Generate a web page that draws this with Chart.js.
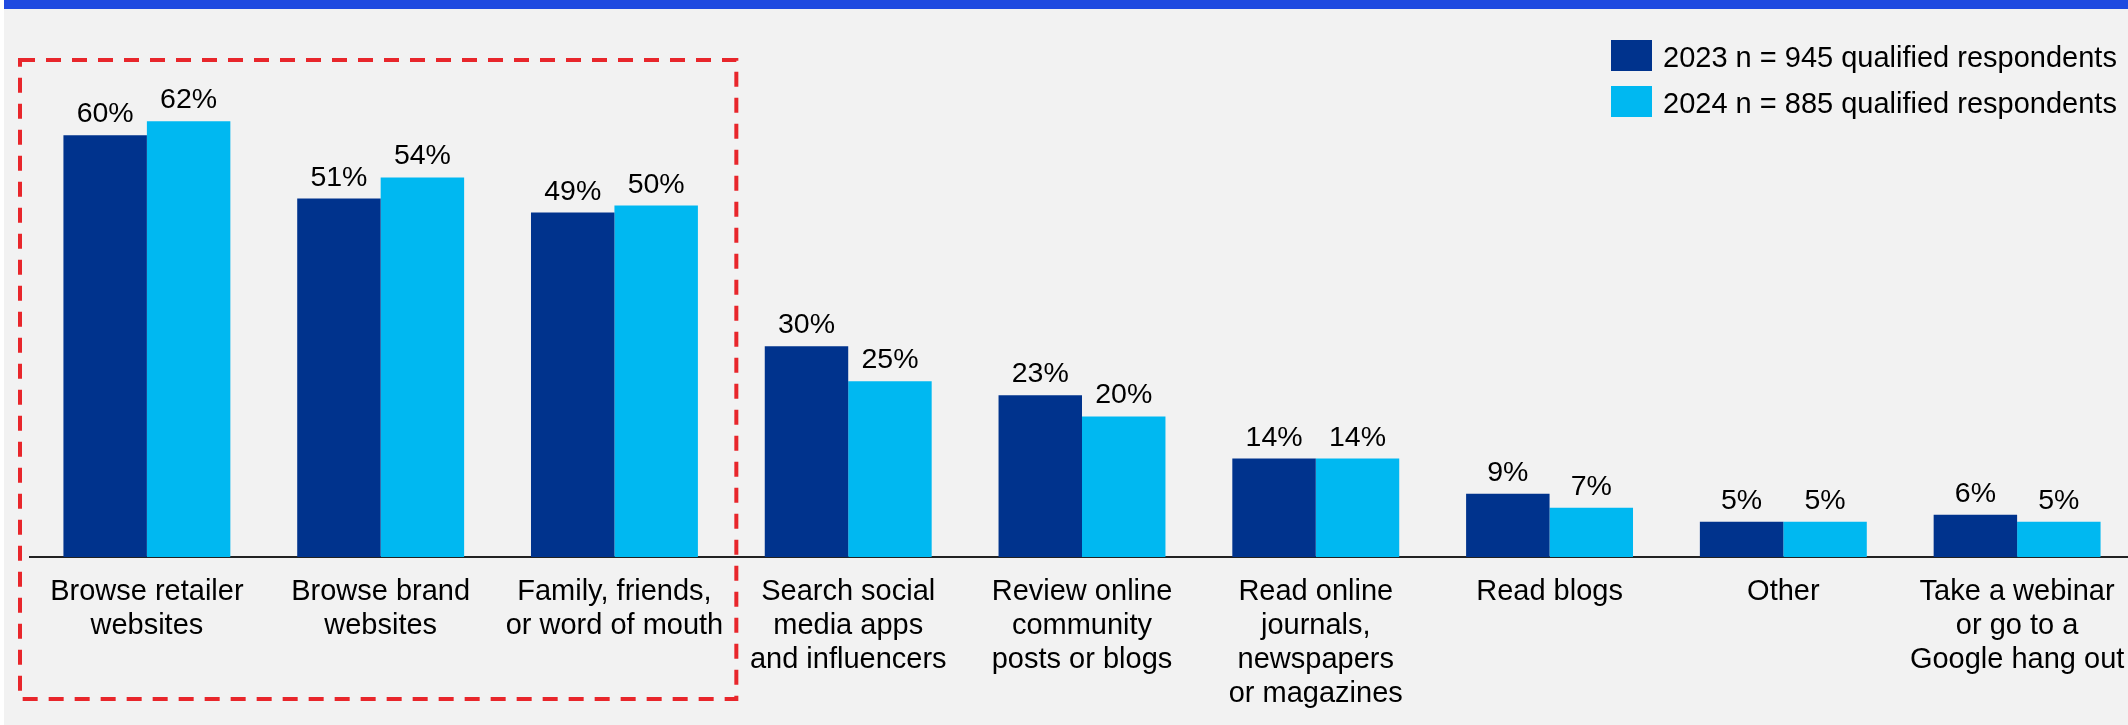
<!DOCTYPE html>
<html>
<head>
<meta charset="utf-8">
<title>Where shoppers look for information</title>
<script src="https://cdn.jsdelivr.net/npm/chart.js@4.4.1/dist/chart.umd.min.js"></script>
<style>
    html, body {
        margin: 0;
        padding: 0;
        background: #ffffff;
        overflow: hidden;
    }
    #chart-box {
        position: absolute;
        left: 0;
        top: 0;
        width: 2134px;
        height: 725px;
    }
</style>
</head>
<body>
<div id="chart-box">
    <canvas id="sources-chart"></canvas>
</div>
<script>
// Survey answers, one entry per category
const categories = [
    ['Browse retailer', 'websites'],
    ['Browse brand', 'websites'],
    ['Family, friends,', 'or word of mouth'],
    ['Search social', 'media apps', 'and influencers'],
    ['Review online', 'community', 'posts or blogs'],
    ['Read online', 'journals,', 'newspapers', 'or magazines'],
    ['Read blogs'],
    ['Other'],
    ['Take a webinar', 'or go to a', 'Google hang out']
];
const values2023 = [60, 51, 49, 30, 23, 14, 9, 5, 6];
const values2024 = [62, 54, 50, 25, 20, 14, 7, 5, 5];
const seriesLabels = [
    '2023 n = 945 qualified respondents',
    '2024 n = 885 qualified respondents'
];
const seriesColors = ['#00338d', '#00b8f1'];

const FONT = '"Liberation Sans", Arial, Helvetica, sans-serif';

// grey panel with the blue band across the top
const backdrop = {
    id: 'backdrop',
    beforeDraw(chart) {
        const ctx = chart.ctx;
        ctx.save();
        ctx.fillStyle = '#ffffff';
        ctx.fillRect(0, 0, chart.width, chart.height);
        ctx.fillStyle = '#f2f2f2';
        ctx.fillRect(4, 0, chart.width, chart.height);
        ctx.fillStyle = '#1f4ae0';
        ctx.fillRect(4, 0, chart.width, 9);
        ctx.restore();
    }
};

// percentage above every bar
const valueLabels = {
    id: 'valueLabels',
    afterDatasetsDraw(chart) {
        const ctx = chart.ctx;
        ctx.save();
        ctx.font = '28.5px ' + FONT;
        ctx.fillStyle = '#000000';
        ctx.textAlign = 'center';
        ctx.textBaseline = 'alphabetic';
        chart.data.datasets.forEach((ds, i) => {
            chart.getDatasetMeta(i).data.forEach((bar, j) => {
                ctx.fillText(ds.data[j] + '%', bar.x, bar.y - 13);
            });
        });
        ctx.restore();
    }
};

// dashed red frame around the top three answers
const highlightBox = {
    id: 'highlightBox',
    afterDraw(chart) {
        const x = chart.scales.x;
        const half = (x.getPixelForValue(1) - x.getPixelForValue(0)) / 2;
        const left = x.getPixelForValue(0) - half - 10;
        const right = x.getPixelForValue(2) + half + 5;
        const top = chart.chartArea.top - 5;
        const bottom = chart.height - 26;
        const ctx = chart.ctx;
        ctx.save();
        ctx.strokeStyle = '#e8262b';
        ctx.lineWidth = 4;
        ctx.setLineDash([15, 11]);
        ctx.strokeRect(left, top, right - left, bottom - top);
        ctx.restore();
    }
};

// legend stacked in the top right corner
const cornerLegend = {
    id: 'cornerLegend',
    afterDraw(chart) {
        const ctx = chart.ctx;
        ctx.save();
        ctx.font = '29px ' + FONT;
        ctx.textAlign = 'left';
        ctx.textBaseline = 'alphabetic';
        chart.data.datasets.forEach((ds, i) => {
            const y = 40 + i * 46;
            ctx.fillStyle = ds.backgroundColor;
            ctx.fillRect(1611, y, 41, 31);
            ctx.fillStyle = '#000000';
            ctx.fillText(ds.label, 1663, y + 27);
        });
        ctx.restore();
    }
};

const ctx = document.getElementById('sources-chart').getContext('2d');

new Chart(ctx, {
    type: 'bar',
    data: {
        labels: categories,
        datasets: [
            {
                label: seriesLabels[0],
                data: values2023,
                backgroundColor: seriesColors[0],
                borderWidth: 0
            },
            {
                label: seriesLabels[1],
                data: values2024,
                backgroundColor: seriesColors[1],
                borderWidth: 0
            }
        ]
    },
    options: {
        responsive: true,
        maintainAspectRatio: false,
        animation: false,
        events: [],
        layout: {
            padding: { left: 30, top: 65, right: 0, bottom: 0 }
        },
        datasets: {
            bar: {
                barPercentage: 1,
                categoryPercentage: 0.714
            }
        },
        plugins: {
            legend: { display: false },
            tooltip: { enabled: false }
        },
        scales: {
            x: {
                grid: { display: false, drawTicks: false },
                border: { display: true, color: '#222222', width: 2 },
                ticks: {
                    color: '#000000',
                    padding: 18,
                    maxRotation: 0,
                    minRotation: 0,
                    autoSkip: false,
                    font: { family: FONT, size: 29, lineHeight: 34 / 29 }
                },
                afterFit(scale) {
                    // labels fit inside their own category, no side padding needed
                    scale.paddingLeft = 0;
                    scale.paddingRight = 0;
                    scale.height = 168;
                }
            },
            y: {
                display: false,
                min: 0,
                max: 70
            }
        }
    },
    plugins: [backdrop, valueLabels, highlightBox, cornerLegend]
});
</script>
</body>
</html>
